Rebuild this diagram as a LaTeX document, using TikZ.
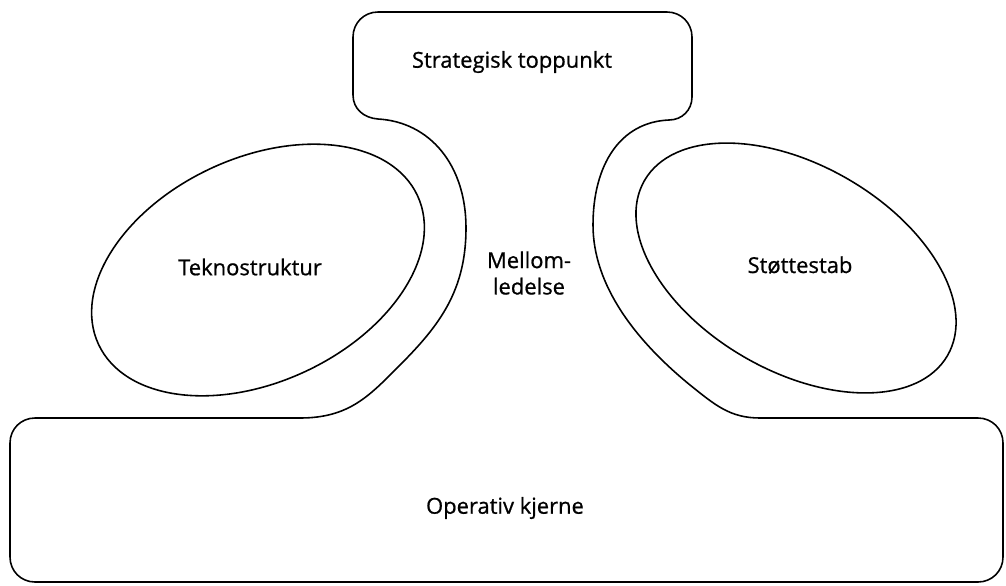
\documentclass[tikz,border=0pt]{standalone}
\usepackage{fontspec}
\setmainfont{Open Sans}
\newfontfamily\labelfont[FakeBold=0.8]{Open Sans}
\usetikzlibrary{positioning, shapes.geometric}
\tikzstyle{outline} =[draw, line width=0.9pt, line join=round]
\tikzstyle{part} =[ellipse, draw, line width=0.9pt, inner sep=0pt]
\tikzstyle{label} =[align=center, font=\labelfont\fontsize{12.5}{15}\selectfont]

\begin{document}
\begin{tikzpicture}[x=0.02cm, y=-0.02cm]
\useasboundingbox (0,0) rectangle (1006,585);

% the whole outline: top box, neck and bottom box
\draw[outline] (35,418) -- (300,418)
	.. controls (350,418) and (370,395) .. (400,365)
	.. controls (440,325) and (466,290) .. (466,228)
	.. controls (466,165) and (430,122) .. (378,119)
	.. controls (364,118) and (353,109) .. (353,95)
	-- (353,37)
	.. controls (353,23) and (364,12) .. (378,12)
	-- (667,12)
	.. controls (681,12) and (692,23) .. (692,37)
	-- (692,97)
	.. controls (692,110) and (682,120) .. (669,120)
	.. controls (620,122) and (593,165) .. (593,225)
	.. controls (593,285) and (635,340) .. (690,385)
	.. controls (715,405) and (730,418) .. (760,418)
	-- (978,418)
	.. controls (992,418) and (1003,429) .. (1003,443)
	-- (1003,557)
	.. controls (1003,571) and (992,582) .. (978,582)
	-- (35,582)
	.. controls (21,582) and (10,571) .. (10,557)
	-- (10,443)
	.. controls (10,429) and (21,418) .. cycle;

\node (teknoShape) [part, minimum width=7.04cm, minimum height=4.48cm, rotate=25] at (258,270) {};
\node (stotteShape) [part, minimum width=7cm, minimum height=4.12cm, rotate=-30] at (796,268) {};

\node (apex) [label] at (512,62) {Strategisk toppunkt};
\node (tekno) [label] at (250,267) {Teknostruktur};
\node (mellom) [label] at (529,273) {Mellom-\\ledelse};
\node (stotte) [label] at (800,265) {Støttestab};
\node (kjerne) [label] at (505,508) {Operativ kjerne};
\end{tikzpicture}
\end{document}
